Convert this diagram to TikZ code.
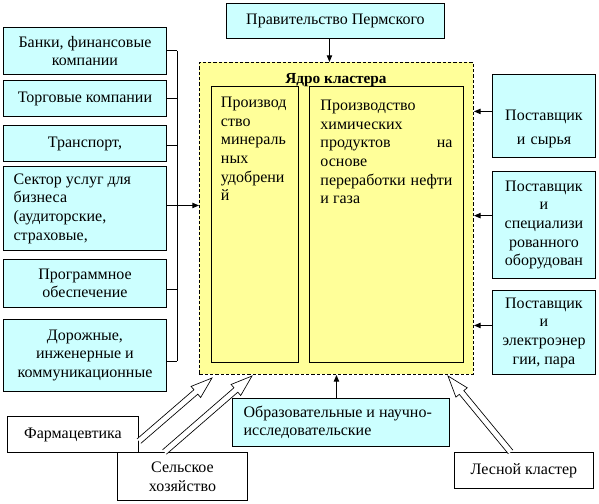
\documentclass[tikz,border=0pt]{standalone}
\usepackage{fontspec}
\setmainfont{Liberation Serif}
\newfontfamily\diagfont{Liberation Serif}
\usetikzlibrary{arrows.meta, calc}
\definecolor{wire}{HTML}{000000}
\definecolor{box-cyan}{HTML}{CCFFFF}
\definecolor{core-yellow}{HTML}{FFFF99}
\tikzset{
  every node/.style={font=\diagfont\fontsize{12}{14}\selectfont},
  boxsize/.style 2 args={minimum width=#1*0.75pt, minimum height=#2*0.75pt},
  cyanbox/.style={draw=wire, line width=0.7pt, fill=box-cyan, align=center,
    inner sep=0pt, anchor=north west},
  whitebox/.style={cyanbox, fill=white},
  % Dashed frame round the cluster core
  corebox/.style={draw=wire, line width=0.7pt, dash pattern=on 2.5pt off 1.5pt,
    fill=core-yellow, inner sep=0pt, anchor=north west},
  innerbox/.style={draw=wire, line width=0.7pt, fill=core-yellow, inner sep=0pt,
    anchor=north west, align=flush left},
  wire/.style={draw=wire, line width=0.7pt},
  arrow/.style={wire, -{Triangle[length=5pt, width=4pt]}},
  hollow/.style={draw=wire, line width=0.5pt, fill=white, line join=miter}
}
% Outlined block arrow from #1 to the tip #2
\newcommand{\hollowarrow}[2]{%
  \coordinate (ha-neck) at ($(#2)!16pt!(#1)$);
  \draw[hollow] ($(#1)!2.2pt!90:(#2)$) -- ($(ha-neck)!2.2pt!90:(#2)$)
    -- ($(ha-neck)!5.5pt!90:(#2)$) -- (#2) -- ($(ha-neck)!5.5pt!-90:(#2)$)
    -- ($(ha-neck)!2.2pt!-90:(#2)$) -- ($(#1)!2.2pt!-90:(#2)$);
}

\begin{document}
\begin{tikzpicture}[x=0.75pt, y=-0.75pt]
  \useasboundingbox (0,0) rectangle (599,503);

  % ---- Government ----------------------------------------------------------
  \node[cyanbox, boxsize={218}{35}] (gov) at (226,3) {Правительство Пермского};

  % ---- Cluster core --------------------------------------------------------
  \node[corebox, boxsize={274}{312}] (core) at (199,62) {};
  \node[font=\diagfont\fontsize{11.5}{13}\selectfont\bfseries] (coretitle) at (336,80) {Ядро кластера};
  \node[innerbox, boxsize={87}{276}, text width=51pt, text height=15.75pt,
        text depth=191.25pt] (fert) at (211,86)
        {Производ\\ ство\\ минераль\\ ных\\ удобрени\\ й};
  \node[innerbox, boxsize={154}{276}, text width=99pt, text height=18pt,
        text depth=189pt] (chem) at (309,86)
        {Производство\\ химических\\ \makebox[99pt][s]{продуктов\hfill на}\\ основе\\
         \makebox[99pt][s]{переработки нефти}\\ и газа};

  % ---- Services on the left ------------------------------------------------
  \node[cyanbox, boxsize={163}{47}] (bank) at (3,27) {Банки, финансовые\\ компании};
  \node[cyanbox, boxsize={163}{36}] (trade) at (3,80) {Торговые компании};
  \node[cyanbox, boxsize={163}{36}] (transp) at (3,125) {Транспорт,};
  \node[cyanbox, boxsize={163}{84}, align=flush left, text width=107pt] (service) at (3,166)
        {Сектор услуг для\\ бизнеса\\ (аудиторские,\\ страховые,};
  \node[cyanbox, boxsize={163}{48}] (soft) at (3,259) {Программное\\ обеспечение};
  \node[cyanbox, boxsize={163}{72}] (road) at (3,319)
        {Дорожные,\\ инженерные и\\ коммуникационные};

  % ---- Suppliers on the right ----------------------------------------------
  \node[cyanbox, boxsize={103}{83}, text width=75pt, text height=34.5pt,
        text depth=27.75pt] (rawsup) at (492,74) {Поставщик\\[4pt] и сырья};
  \node[cyanbox, boxsize={103}{107}] (equipsup) at (492,171)
        {Поставщик\\ и\\ специализи\\ рованного\\ оборудован};
  \node[cyanbox, boxsize={103}{84}] (energysup) at (492,290)
        {Поставщик\\ и\\ электроэнер\\ гии, пара};

  % ---- Bottom row ----------------------------------------------------------
  \node[whitebox, boxsize={131}{36}] (farm) at (7,416) {Фармацевтика};
  \node[whitebox, boxsize={130}{48}] (agri) at (117,452) {Сельское\\ хозяйство};
  \node[cyanbox, boxsize={217}{48}, align=flush left, text width=146pt] (edu) at (232,398)
        {Образовательные и научно-\\ исследовательские};
  \node[whitebox, boxsize={139}{36}] (forest) at (454,452) {Лесной кластер};

  % ---- Connectors ----------------------------------------------------------
  \draw[arrow] ([xshift=-4.5pt]gov.south) -- ([xshift=-4.5pt]gov.south |- core.north);
  \draw[arrow] (edu.north -| core.south) -- (core.south);

  \coordinate (bus) at (177,0);
  \foreach \b/\s in {bank/0, trade/0, transp/-1.5, soft/-4.5, road/-4.5}
    \draw[wire] ([yshift=\s pt]\b.east) -- ([yshift=\s pt]\b.east -| bus);
  \draw[wire] (bank.east -| bus) -- ([yshift=-4.5pt]road.east -| bus);
  \draw[arrow] ([yshift=2.25pt]service.east) -- ([yshift=2.25pt]service.east -| core.west);

  \foreach \b/\s in {rawsup/3.4, equipsup/7, energysup/5.25}
    \draw[arrow] ([yshift=\s pt]\b.west) -- ([yshift=\s pt]\b.west -| core.east);

  % ---- Neighbouring clusters -----------------------------------------------
  \coordinate (farmout) at ([yshift=-5pt]farm.east);
  \coordinate (farmtip) at (212,378);
  \coordinate (agriout) at ([xshift=-13.5pt]agri.north);
  \coordinate (agritip) at (252,376);
  \coordinate (forestout) at ([xshift=-10pt]forest.north);
  \coordinate (foresttip) at (448,376);
  \hollowarrow{farmout}{farmtip}
  \hollowarrow{agriout}{agritip}
  \hollowarrow{forestout}{foresttip}

\end{tikzpicture}
\end{document}
